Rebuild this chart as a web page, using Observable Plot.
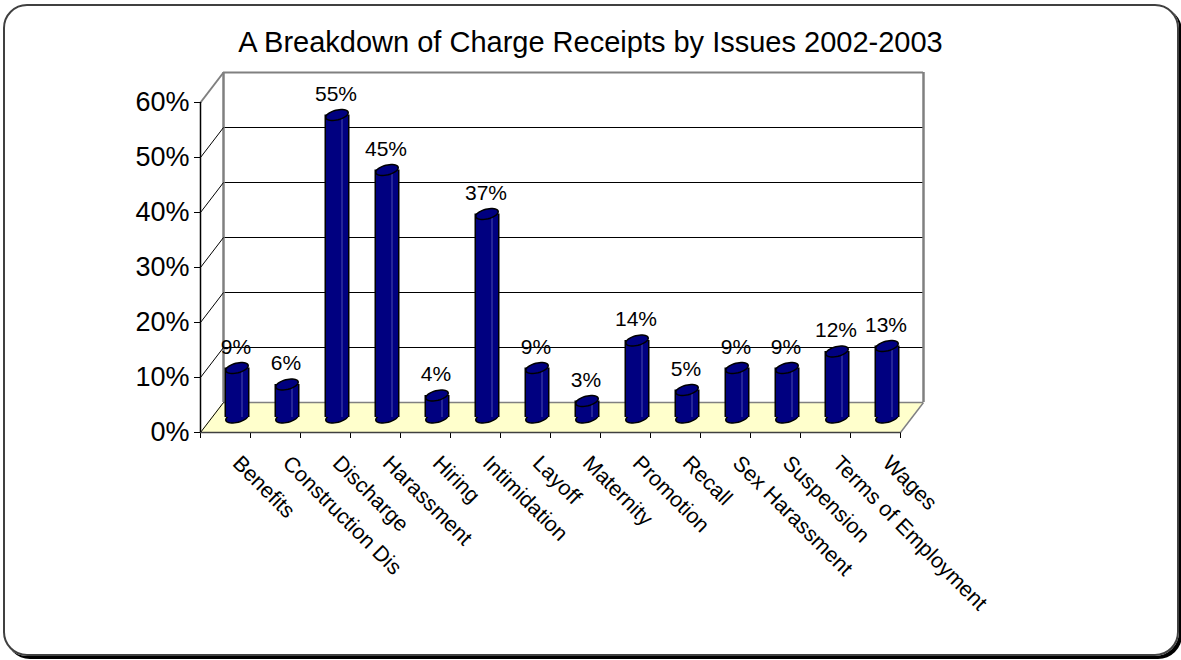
<!DOCTYPE html>
<html>
<head>
<meta charset="utf-8">
<script src="https://cdn.jsdelivr.net/npm/d3@7"></script>
<script src="https://cdn.jsdelivr.net/npm/@observablehq/plot@0.6"></script>
<style>
  html, body { margin: 0; padding: 0; background: #fff; }
  body { width: 1181px; height: 660px; position: relative; overflow: hidden; font-family: "Liberation Sans", Arial, sans-serif; }
  #chart { position: absolute; left: 0; top: 0; }
  #title { position: absolute; left: 0; width: 1181px; top: 28px; line-height: 29px; font-size: 29px; text-align: center; color: #000; }
  #frame { position: absolute; left: 3px; top: 4px; width: 1172px; height: 648px; border: 2px solid #404040; border-radius: 24px; box-shadow: 3px 3px 0 #000; pointer-events: none; }
</style>
</head>
<body>
<div id="chart"></div>
<div id="title">A Breakdown of Charge Receipts by Issues 2002-2003</div>
<div id="frame"></div>
<script>
// ---- data ----
const categories = ["Benefits", "Construction Dis", "Discharge", "Harassment", "Hiring", "Intimidation", "Layoff", "Maternity", "Promotion", "Recall", "Sex Harassment", "Suspension", "Terms of Employment", "Wages"];
const values = [9, 6, 55, 45, 4, 37, 9, 3, 14, 5, 9, 9, 12, 13];
const yTicks = [0, 10, 20, 30, 40, 50, 60];

// ---- layout / style ----
const W = 1181, H = 660;
const M = {left: 200, right: 281, top: 102, bottom: 228};
const depthPx = {x: 23, y: 30};           // 3D depth of the chart box
const pxPerX = (W - M.left - M.right) / categories.length;
const pxPerY = (H - M.top - M.bottom) / (yTicks[yTicks.length - 1] - yTicks[0]);
const depthX = depthPx.x / pxPerX;        // depth in x data units
const depthY = depthPx.y / pxPerY;        // depth in y data units
const barDx = depthPx.x / 2, barDy = -depthPx.y / 2;
const navy = "#000080", gray = "#808080", floorFill = "#FFFFCC";

const data = categories.map((c, i) => ({cat: c, i: i + 0.5, v: values[i]}));
const n = categories.length;
const floorPts = [
  {x: 0, y1: 0, y2: 0},
  {x: depthX, y1: 0, y2: depthY},
  {x: n, y1: 0, y2: depthY},
  {x: n + depthX, y1: depthY, y2: depthY}
];

const ellipse = {
  draw(ctx, size) {
    const rx = Math.sqrt(size / Math.PI), ry = rx * 0.42, th = -14 * Math.PI / 180;
    const k = 40;
    for (let j = 0; j <= k; j++) {
      const t = 2 * Math.PI * j / k;
      const x = rx * Math.cos(t), y = ry * Math.sin(t);
      const X = x * Math.cos(th) - y * Math.sin(th), Y = x * Math.sin(th) + y * Math.cos(th);
      if (j === 0) ctx.moveTo(X, Y); else ctx.lineTo(X, Y);
    }
    ctx.closePath();
  }
};

const chart = Plot.plot({
  width: W, height: H,
  marginLeft: M.left, marginRight: M.right, marginTop: M.top, marginBottom: M.bottom,
  style: {background: "transparent", fontSize: "27px", fontFamily: "'Liberation Sans', Arial, sans-serif", color: "#000"},
  x: {domain: [0, n], ticks: d3.range(0, n + 1), tickFormat: () => "", tickSize: 6, label: null},
  y: {domain: [yTicks[0], yTicks[yTicks.length - 1]], ticks: yTicks, tickFormat: d => d + "%", tickSize: 6, tickPadding: 5, label: null},
  marks: [
    // floor
    Plot.areaY(floorPts, {x: "x", y1: "y1", y2: "y2", fill: floorFill, curve: "linear"}),
    // back wall grid lines
    Plot.ruleY(yTicks.slice(1, -1), {dx: depthPx.x, dy: -depthPx.y, stroke: "#000", strokeWidth: 1}),
    Plot.ruleY([yTicks[yTicks.length - 1]], {dx: depthPx.x, dy: -depthPx.y, stroke: gray, strokeWidth: 2}),
    Plot.ruleY([0], {dx: depthPx.x, dy: -depthPx.y, stroke: gray, strokeWidth: 1.5}),
    Plot.ruleX([0, n], {dx: depthPx.x, dy: -depthPx.y, stroke: gray, strokeWidth: 2.5}),
    // side wall diagonals
    Plot.link(yTicks.slice(0, -1), {x1: 0, y1: d => d, x2: depthX, y2: d => d + depthY, stroke: "#000", strokeWidth: 1}),
    Plot.link([yTicks[yTicks.length - 1]], {x1: 0, y1: d => d, x2: depthX, y2: d => d + depthY, stroke: gray, strokeWidth: 2}),
    Plot.link([0], {x1: n, y1: 0, x2: n + depthX, y2: depthY, stroke: gray, strokeWidth: 1.5}),
    // front axes
    Plot.ruleY([0], {stroke: "#404040", strokeWidth: 1.5}),
    Plot.ruleX([0], {stroke: "#000", strokeWidth: 1.5}),
    // bars (cylinders)
    Plot.dot(data, {x: "i", y: () => 0, symbol: ellipse, r: 11.5, fill: navy, stroke: "#000", strokeWidth: 1.5, dx: barDx, dy: barDy}),
    Plot.ruleX(data, {x: "i", y1: () => 0, y2: "v", stroke: "#000", strokeWidth: 25, dx: barDx, dy: barDy}),
    Plot.ruleX(data, {x: "i", y1: () => 0, y2: "v", stroke: navy, strokeWidth: 22, dx: barDx, dy: barDy}),
    Plot.ruleX(data, {x: "i", y1: () => 0, y2: "v", stroke: "#4a4ab0", strokeWidth: 1, dx: barDx + 5, dy: barDy}),
    Plot.dot(data, {x: "i", y: "v", symbol: ellipse, r: 11.5, fill: navy, stroke: "#000", strokeWidth: 1.5, dx: barDx, dy: barDy}),
    // value labels
    Plot.text(data, {x: "i", y: "v", text: d => d.v + "%", dx: barDx - 1, dy: barDy - 21, fontSize: 21, fill: "#000"}),
    // category labels
    Plot.text(data, {x: "i", y: () => 0, text: "cat", rotate: 45, textAnchor: "start", lineAnchor: "bottom", dx: 6, dy: 32, fontSize: 21.5, fill: "#000"})
  ]
});
document.getElementById("chart").appendChild(chart);
</script>
</body>
</html>
